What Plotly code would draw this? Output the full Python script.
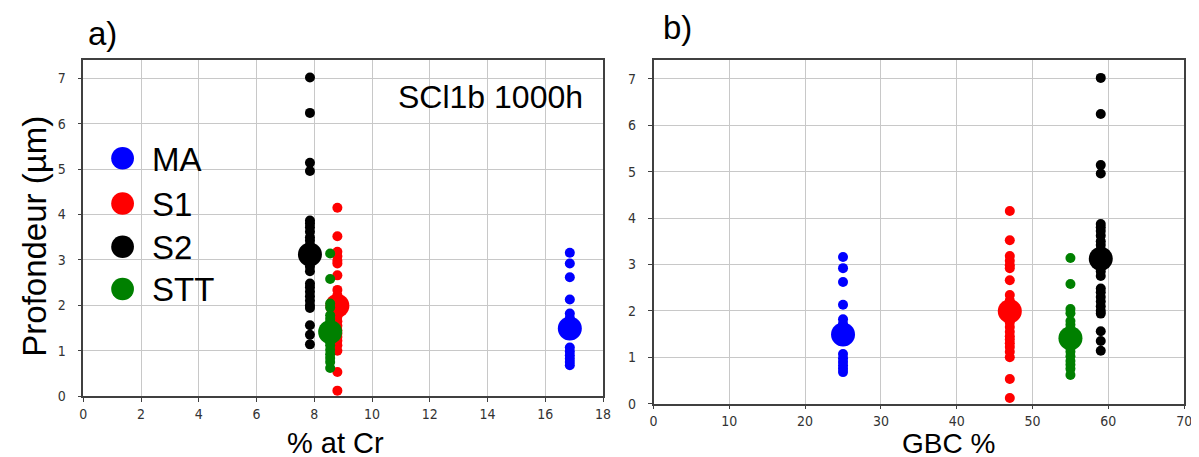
import plotly.graph_objects as go

W, H = 1199, 457

# ---- data ----
series = ["MA", "S1", "S2", "STT"]
colors = ["#0000ff", "#ff0000", "#000000", "#008000"]
cr_pct = [16.85, 8.8, 7.85, 8.55]          # % at Cr (panel a)
gbc_pct = [25.0, 47.0, 59.0, 55.0]         # GBC % (panel b)

depth_MA = [3.16, 2.92, 2.62, 2.13, 1.82, 1.72, 1.62, 1.55, 1.45, 1.40,
            1.07, 0.98, 0.90, 0.82, 0.75, 0.68]
depth_S1 = [4.15, 3.52, 3.18, 3.08, 2.98, 2.92, 2.66, 2.34, 2.22, 2.12,
            1.85, 1.75, 1.65, 1.55, 1.45, 1.38, 1.30, 1.22, 1.12, 1.00,
            0.53, 0.12]
depth_S2 = [7.02, 6.24, 5.14, 4.96, 3.87, 3.80, 3.72, 3.62, 3.50, 3.42,
            3.32, 3.22, 2.95, 2.85, 2.75, 2.48, 2.40, 2.30, 2.20, 2.10,
            2.00, 1.94, 1.56, 1.35, 1.14]
depth_STT = [3.14, 2.58, 2.04, 1.95, 1.78, 1.70, 1.62, 1.52, 1.35, 1.28,
             1.20, 1.12, 1.02, 0.92, 0.84, 0.75, 0.62]
depths = [depth_MA, depth_S1, depth_S2, depth_STT]
depth_mean = [1.49, 1.99, 3.12, 1.41]

x_ticks_a = [0, 2, 4, 6, 8, 10, 12, 14, 16, 18]
x_ticks_b = [0, 10, 20, 30, 40, 50, 60, 70]
y_ticks = [0, 1, 2, 3, 4, 5, 6, 7]

# ---- helpers ----
def px(x):
    return x / W

def py(y):
    return 1 - y / H

fig = go.Figure()

for xs, xa, ya in [(cr_pct, "x", "y"), (gbc_pct, "x2", "y2")]:
    for name, col, xv, d, m in zip(series, colors, xs, depths, depth_mean):
        fig.add_trace(go.Scatter(
            x=[xv] * len(d), y=d, mode="markers", xaxis=xa, yaxis=ya,
            marker=dict(size=10, color=col, line=dict(width=0)),
            showlegend=False, hoverinfo="skip"))
        fig.add_trace(go.Scatter(
            x=[xv], y=[m], mode="markers", xaxis=xa, yaxis=ya,
            marker=dict(size=24, color=col, line=dict(width=0)),
            showlegend=False, name=name))

tickfont = dict(family="DejaVu Sans Condensed, Liberation Sans Narrow, DejaVu Sans",
                size=14, color="#333333")
axis_common = dict(showline=True, mirror=True, linecolor="#404040", linewidth=1.5,
                   showgrid=True, gridcolor="#c8c8c8", gridwidth=1.3,
                   ticks="outside", ticklen=4, tickcolor="#404040", tickwidth=1.2,
                   zeroline=False, tickfont=tickfont, fixedrange=True)

fig.update_layout(
    width=W, height=H,
    margin=dict(l=0, r=0, t=0, b=0),
    paper_bgcolor="white", plot_bgcolor="white",
    showlegend=False,
    xaxis=dict(domain=[px(72), px(597)], range=[0, 18], tickvals=x_ticks_a,
               anchor="y", **axis_common),
    yaxis=dict(domain=[py(395), py(52.7)], range=[0, 7.41], tickvals=y_ticks,
               anchor="x", ticklabelstandoff=9, **axis_common),
    xaxis2=dict(domain=[px(648), px(1184)], range=[0, 70], tickvals=x_ticks_b,
                anchor="y2", **axis_common),
    yaxis2=dict(domain=[py(402.7), py(52.7)], range=[0, 7.41], tickvals=y_ticks,
                anchor="x2", ticklabelstandoff=9, **axis_common),
)

txtfont = "Liberation Sans, Arial, sans-serif"
ann = []
def add_text(t, x, y, size, angle=0, xanchor="center", yanchor="middle"):
    ann.append(dict(text=t, x=px(x), y=py(y), xref="paper", yref="paper",
                    xanchor=xanchor, yanchor=yanchor, showarrow=False,
                    textangle=angle, font=dict(family=txtfont, size=size, color="black")))

add_text("a)", 91, 26, 33)
add_text("b)", 672, 20, 33)
add_text("Profondeur (µm)", 23, 232, 33, angle=-90)
add_text("% at Cr", 327, 461, 29, yanchor="bottom")
add_text("GBC %", 946, 461, 28, yanchor="bottom")
add_text("SCl1b 1000h", 483, 91, 32)

# legend
leg_y = [153, 199, 243, 286]
shapes = []
for name, col, ly in zip(series, colors, leg_y):
    r = 11.5
    shapes.append(dict(type="circle", xref="paper", yref="paper",
                       x0=px(111.7 - r), x1=px(111.7 + r), y0=py(ly + r), y1=py(ly - r),
                       fillcolor=col, line=dict(width=0)))
    add_text(name, 139, ly + 1, 33, xanchor="left")

fig.update_layout(annotations=ann, shapes=shapes)

fig.write_html("out.html")
